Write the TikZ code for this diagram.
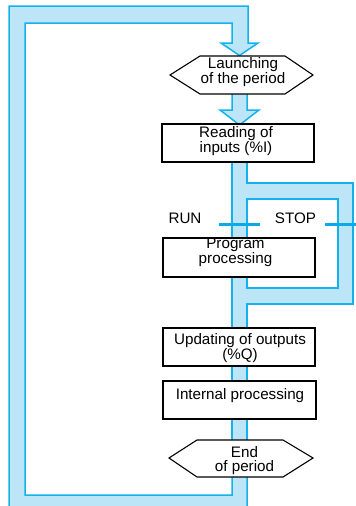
\documentclass[tikz,border=0pt]{standalone}
\usepackage{fontspec}
\setmainfont{Liberation Sans}
\definecolor{bandfill}{RGB}{189,229,248}
\definecolor{bandedge}{RGB}{20,178,236}
\definecolor{tickblue}{RGB}{10,170,232}
\newcommand\mylabelfont{\fontsize{15.2}{15}\selectfont}
\begin{document}
\begin{tikzpicture}[x=1pt,y=-1pt,
  band/.style={fill=bandfill, draw=bandedge, line width=1.5pt, line join=miter},
  box/.style={draw=black, fill=white, line width=1.1pt, inner sep=0pt},
  hexa/.style={draw=black, fill=white, line width=1.1pt, line join=miter},
  lbl/.style={font=\mylabelfont, anchor=base, inner sep=0pt},
  tickmark/.style={draw=tickblue, line width=3pt}]
\useasboundingbox (0,0) rectangle (356,506);
\clip (0,0) rectangle (356,506);
\fill[white] (0,0) rectangle (356,506);
% main loop band with arrow into the first hexagon
\path[band] (9,515) -- (9,6) -- (248,6) -- (248,43) -- (258,43) -- (239.5,55.5)
  -- (221,43) -- (232,43) -- (232,23) -- (25,23) -- (25,495) -- (232,495)
  -- (232,470) -- (247,470) -- (247,515) -- cycle;
% arrow from launching to reading
\path[band] (232,88) -- (232,110) -- (220,110) -- (239.5,125) -- (259,110)
  -- (247,110) -- (247,88) -- cycle;
% vertical band with STOP loop
\path[band, even odd rule] (232,150) -- (232,450) -- (247,450) -- (247,304)
  -- (353,304) -- (353,183) -- (247,183) -- (247,150) -- cycle
  (247,199) -- (338,199) -- (338,288) -- (247,288) -- cycle;
% RUN / STOP marks
\coordinate (runL) at (219,224);
\coordinate (runR) at (260,224);
\coordinate (stopL) at (325,224);
\coordinate (stopR) at (358,224);
\draw[tickmark] (runL) -- (runR);
\draw[tickmark] (stopL) -- (stopR);
\node[lbl] (run) at (185,223) {RUN};
\node[lbl] (stop) at (295.5,223) {STOP};
% hexagons
\draw[hexa] (170,75) -- (200,56) -- (285,56) -- (313,75) -- (285,94) -- (200,94) -- cycle;
\draw[hexa] (169,458) -- (197,440) -- (283,440) -- (313,458) -- (283,477) -- (197,477) -- cycle;
% boxes
\node[box, minimum width=152pt, minimum height=38pt] (read) at (238,143) {};
\node[box, minimum width=152pt, minimum height=39pt] (prog) at (239,257.5) {};
\node[box, minimum width=152pt, minimum height=38pt] (upd) at (239,347) {};
\node[box, minimum width=153pt, minimum height=38pt] (intp) at (239.5,400) {};
% texts
\node[lbl] (l1) at (243,68) {Launching};
\node[lbl] (l2) at (243,83) {of the period};
\node[lbl] (r1) at (236,137) {Reading of};
\node[lbl] (r2) at (236,152) {inputs (\%I)};
\node[lbl] (p1) at (235.5,248) {Program};
\node[lbl] (p2) at (235.5,263) {processing};
\node[lbl] (u1) at (240,344.5) {Updating of outputs};
\node[lbl] (u2) at (240,359.5) {(\%Q)};
\node[lbl] (i1) at (240,399) {Internal processing};
\node[lbl] (e1) at (244.5,457) {End};
\node[lbl] (e2) at (244.5,471) {of period};
\end{tikzpicture}
\end{document}
